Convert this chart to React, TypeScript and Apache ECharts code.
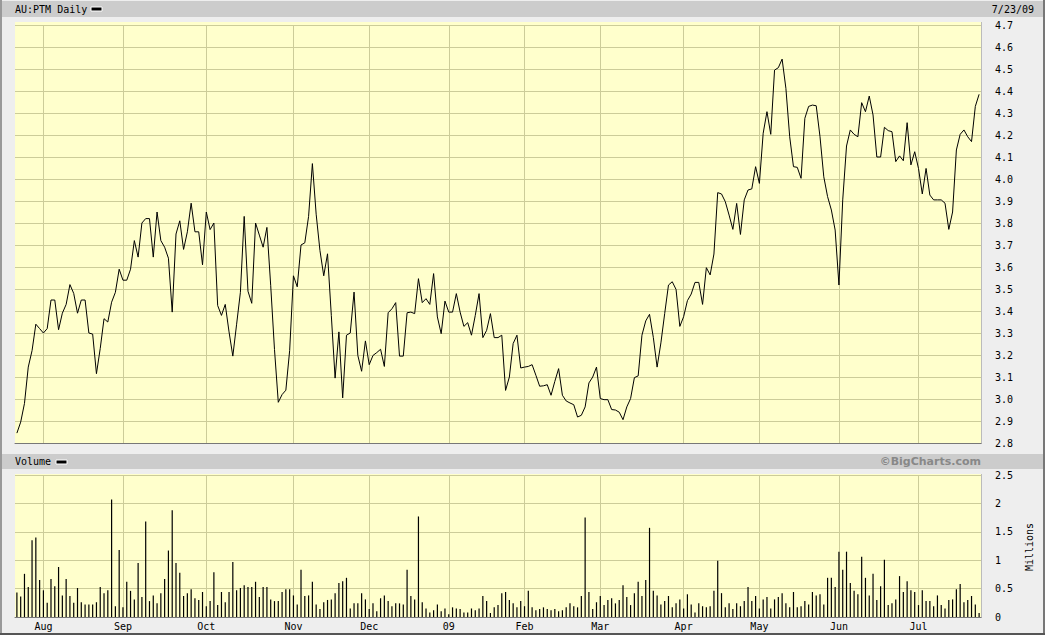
import React, { useEffect, useRef } from "react";
import * as echarts from "echarts";

// ASX trading calendar (categories)
const START_DATE = "2008-07-23";
const END_DATE = "2009-07-23";
const HOLIDAYS = ["2008-12-25", "2008-12-26", "2009-01-01", "2009-01-26", "2009-04-10", "2009-04-13", "2009-06-08"];
const MONTH_NAMES = ["09", "Feb", "Mar", "Apr", "May", "Jun", "Jul", "Aug", "Sep", "Oct", "Nov", "Dec"];

// Daily close (A$)
const PRICE = [
  2.845, 2.895, 2.98, 3.145, 3.22, 3.34, 3.32, 3.30, 3.32, 3.45,
  3.45, 3.315, 3.39, 3.43, 3.52, 3.48, 3.39, 3.45, 3.45, 3.30,
  3.295, 3.115, 3.23, 3.365, 3.35, 3.44, 3.485, 3.59, 3.54, 3.54,
  3.59, 3.72, 3.645, 3.80, 3.82, 3.82, 3.645, 3.85, 3.72, 3.69,
  3.64, 3.395, 3.75, 3.81, 3.68, 3.76, 3.89, 3.76, 3.76, 3.61,
  3.85, 3.77, 3.80, 3.425, 3.38, 3.43, 3.305, 3.195, 3.34, 3.485,
  3.83, 3.49, 3.435, 3.80, 3.745, 3.69, 3.78, 3.515, 3.225, 2.985,
  3.02, 3.04, 3.22, 3.56, 3.51, 3.70, 3.71, 3.83, 4.07, 3.84,
  3.675, 3.56, 3.66, 3.38, 3.095, 3.305, 3.005, 3.29, 3.30, 3.486,
  3.198, 3.126, 3.264, 3.156, 3.198, 3.211, 3.226, 3.148, 3.392, 3.41,
  3.438, 3.195, 3.195, 3.392, 3.395, 3.388, 3.547, 3.438, 3.456, 3.43,
  3.57, 3.373, 3.297, 3.445, 3.395, 3.395, 3.479, 3.395, 3.33, 3.347,
  3.29, 3.38, 3.479, 3.279, 3.312, 3.388, 3.279, 3.279, 3.29, 3.039,
  3.10, 3.252, 3.29, 3.141, 3.145, 3.148, 3.156, 3.108, 3.058, 3.06,
  3.065, 3.017, 3.08, 3.138, 3.017, 2.991, 2.982, 2.974, 2.918, 2.926,
  2.964, 3.073, 3.10, 3.145, 3.002, 2.997, 2.997, 2.952, 2.95, 2.94,
  2.906, 2.964, 3.002, 3.097, 3.105, 3.29, 3.355, 3.385, 3.28, 3.145,
  3.255, 3.388, 3.518, 3.533, 3.498, 3.33, 3.374, 3.447, 3.477, 3.53,
  3.53, 3.43, 3.597, 3.564, 3.659, 3.938, 3.932, 3.897, 3.836, 3.771,
  3.889, 3.748, 3.905, 3.95, 3.955, 4.056, 3.98, 4.208, 4.306, 4.203,
  4.495, 4.506, 4.545, 4.412, 4.192, 4.056, 4.053, 4.003, 4.276, 4.33,
  4.336, 4.333, 4.192, 4.01, 3.92, 3.859, 3.768, 3.518, 3.905, 4.15,
  4.223, 4.203, 4.192, 4.347, 4.306, 4.377, 4.291, 4.10, 4.10, 4.235,
  4.22, 4.215, 4.079, 4.105, 4.083, 4.256, 4.064, 4.124, 4.048, 3.932,
  4.048, 3.927, 3.905, 3.905, 3.905, 3.89, 3.771, 3.85, 4.132, 4.203,
  4.223, 4.192, 4.17, 4.33, 4.385,
];

// Daily volume (millions)
const VOLUME = [
  0.43, 0.36, 0.76, 0.53, 1.35, 1.40, 0.65, 0.47, 0.25, 0.67,
  0.54, 0.88, 0.38, 0.67, 0.37, 0.25, 0.51, 0.26, 0.22, 0.22,
  0.22, 0.26, 0.53, 0.42, 0.47, 2.07, 0.19, 1.18, 0.17, 0.62,
  0.46, 0.31, 0.95, 0.35, 1.68, 0.28, 0.38, 0.24, 0.42, 0.67,
  1.17, 1.88, 0.95, 0.78, 0.37, 0.42, 0.49, 0.33, 0.30, 0.44,
  0.19, 0.28, 0.79, 0.21, 0.44, 0.26, 0.44, 0.97, 0.47, 0.51,
  0.56, 0.53, 0.53, 0.62, 0.35, 0.53, 0.53, 0.31, 0.28, 0.28,
  0.44, 0.49, 0.49, 0.38, 0.22, 0.83, 0.37, 0.38, 0.62, 0.22,
  0.14, 0.26, 0.30, 0.31, 0.42, 0.60,
  0.63, 0.69, 0.15, 0.24, 0.24, 0.42, 0.31, 0.14, 0.24, 0.10,
  0.33, 0.38, 0.28, 0.19, 0.24, 0.24, 0.22, 0.83, 0.37, 0.31,
  1.77, 0.26, 0.15, 0.08, 0.12, 0.22, 0.10, 0.15, 0.05, 0.17,
  0.15, 0.14, 0.08, 0.08, 0.15, 0.12, 0.15, 0.37, 0.28, 0.07,
  0.17, 0.21, 0.42, 0.44, 0.30, 0.24, 0.17, 0.28, 0.19, 0.46,
  0.17, 0.12, 0.14, 0.17, 0.14, 0.12, 0.14, 0.10, 0.12, 0.17,
  0.24, 0.19, 0.17, 0.37, 1.75, 0.44, 0.14, 0.26, 0.37, 0.21,
  0.30, 0.33, 0.24, 0.30, 0.56, 0.35, 0.21, 0.42, 0.62, 0.37,
  0.65, 1.57, 0.46, 0.38, 0.22, 0.28,
  0.37, 0.17, 0.24, 0.31, 0.15, 0.40, 0.22, 0.08,
  0.24, 0.19, 0.17, 0.19, 0.46, 0.99, 0.42, 0.17, 0.24, 0.14,
  0.24, 0.19, 0.28, 0.53, 0.28, 0.37, 0.15, 0.31, 0.35, 0.15,
  0.31, 0.35, 0.42, 0.24, 0.17, 0.44, 0.17, 0.19, 0.28, 0.22,
  0.44, 0.38, 0.40, 0.22, 0.69, 0.69, 0.53, 1.15, 0.83, 1.15,
  0.60, 0.46, 0.40, 1.06, 0.69, 0.38, 0.76, 0.30, 0.54, 1.01,
  0.21, 0.24, 0.31, 0.72, 0.44, 0.63, 0.47, 0.44, 0.21, 0.47,
  0.28, 0.28, 0.19, 0.38, 0.21, 0.15, 0.30, 0.31, 0.49, 0.58,
  0.26, 0.30, 0.37, 0.22, 0.07,
];

const PRICE_AXIS = { min: 2.8, max: 4.7, interval: 0.1 };
const VOLUME_AXIS = { min: 0, max: 2.5, interval: 0.5 };

function tradingDays(): string[] {
  const out: string[] = [];
  const [sy, sm, sd] = START_DATE.split("-").map(Number);
  const [ey, em, ed] = END_DATE.split("-").map(Number);
  let t = Date.UTC(sy, sm - 1, sd);
  const end = Date.UTC(ey, em - 1, ed);
  while (t <= end) {
    const d = new Date(t);
    const wd = d.getUTCDay();
    const s = d.toISOString().slice(0, 10);
    if (wd !== 0 && wd !== 6 && HOLIDAYS.indexOf(s) < 0) out.push(s);
    t += 86400000;
  }
  return out;
}

const MONO = "'DejaVu Sans Mono', monospace";
const GRID_COLOR = "#cccc99";
const PLOT_BG = "#ffffcc";

export default function App() {
  const ref = useRef<HTMLDivElement>(null);
  useEffect(() => {
    if (!ref.current) return;
    const chart = echarts.init(ref.current, undefined, { renderer: "svg" });
    const days = tradingDays();
    const isMonthStart = (i: number) => i > 0 && days[i] && days[i - 1] && days[i].slice(0, 7) !== days[i - 1].slice(0, 7);
    const monthLabel = (v: string) => MONTH_NAMES[Number(v.slice(5, 7)) - 1];

    const xBase = (gridIndex: number, showLabels: boolean) => ({
      type: "category",
      gridIndex,
      data: days,
      boundaryGap: true,
      axisLine: { show: true, lineStyle: { color: "#777777", width: 1 } },
      axisTick: { show: false },
      axisLabel: {
        show: showLabels,
        interval: (i: number) => isMonthStart(i),
        formatter: monthLabel,
        fontFamily: MONO,
        fontSize: 10,
        color: "#000",
        margin: 4,
      },
      splitLine: {
        show: true,
        interval: (i: number) => isMonthStart(i),
        alignWithLabel: true,
        lineStyle: { color: GRID_COLOR, width: 1 },
      },
    });

    const yBase = (gridIndex: number, cfg: any, fmt: (v: number) => string) => ({
      type: "value",
      gridIndex,
      position: "right",
      min: cfg.min,
      max: cfg.max,
      interval: cfg.interval,
      axisLine: { show: false },
      axisTick: { show: false },
      axisLabel: { margin: 14, formatter: fmt, fontFamily: MONO, fontSize: 10, color: "#000" },
      splitLine: { show: true, lineStyle: { color: GRID_COLOR, width: 1 } },
    });

    const txt = (text: string, x: number, y: number, extra: any = {}) => ({
      type: "text",
      x,
      y,
      silent: true,
      style: {
        text,
        x: 0,
        y: 0,
        fill: "#000",
        font: `10px ${MONO}`,
        textVerticalAlign: "middle",
        ...extra,
      },
    });

    chart.setOption({
      animation: false,
      backgroundColor: "#eeeeee",
      grid: [
        { left: 15, top: 25, width: 966, height: 418, show: true, backgroundColor: PLOT_BG, borderWidth: 0 },
        { left: 15, top: 475, width: 966, height: 142, show: true, backgroundColor: PLOT_BG, borderWidth: 0 },
      ],
      xAxis: [xBase(0, false), xBase(1, true)],
      yAxis: [
        yBase(0, PRICE_AXIS, (v: number) => v.toFixed(1)),
        yBase(1, VOLUME_AXIS, (v: number) => String(Math.round(v * 10) / 10)),
      ],
      series: [
        {
          type: "line",
          xAxisIndex: 0,
          yAxisIndex: 0,
          data: PRICE,
          symbol: "none",
          showSymbol: false,
          lineStyle: { color: "#000", width: 1 },
          z: 5,
        },
        {
          type: "bar",
          xAxisIndex: 1,
          yAxisIndex: 1,
          data: VOLUME,
          barWidth: 1.2,
          itemStyle: { color: "#000" },
          z: 5,
        },
      ],
      graphic: [
        // frame
        { type: "rect", shape: { x: 0, y: 0, width: 2, height: 635 }, style: { fill: "#999999" }, silent: true },
        { type: "rect", shape: { x: 1043, y: 0, width: 2, height: 635 }, style: { fill: "#777777" }, silent: true },
        { type: "rect", shape: { x: 0, y: 633, width: 1045, height: 2 }, style: { fill: "#555555" }, silent: true },
        // header bars
        { type: "rect", shape: { x: 2, y: 1, width: 1041, height: 16 }, style: { fill: "#cccccc" }, silent: true },
        { type: "rect", shape: { x: 2, y: 454, width: 1041, height: 15 }, style: { fill: "#cccccc" }, silent: true },
        // plot top strips
        { type: "rect", shape: { x: 15, y: 22, width: 966, height: 3 }, style: { fill: PLOT_BG }, silent: true },
        { type: "rect", shape: { x: 15, y: 474, width: 966, height: 1 }, style: { fill: PLOT_BG }, silent: true },
        // right edges
        { type: "line", shape: { x1: 981.5, y1: 22, x2: 981.5, y2: 444 }, style: { stroke: "#bbbbbb", lineWidth: 1 }, silent: true },
        { type: "line", shape: { x1: 981.5, y1: 474, x2: 981.5, y2: 618 }, style: { stroke: "#bbbbbb", lineWidth: 1 }, silent: true },
        // titles
        txt("AU:PTM Daily", 15, 9.5),
        { type: "rect", shape: { x: 91, y: 7, width: 11, height: 4 }, style: { fill: "#000", stroke: "#ffffff", lineWidth: 1 }, silent: true },
        txt("7/23/09", 1034, 9.5, { textAlign: "right" }),
        txt("Volume", 15, 461.5),
        { type: "rect", shape: { x: 56, y: 460, width: 11, height: 4 }, style: { fill: "#000", stroke: "#ffffff", lineWidth: 1 }, silent: true },
        txt("©BigCharts.com", 981, 461.5, { textAlign: "right", fill: "#888888", font: "bold 11px 'DejaVu Sans', sans-serif" }),
        { ...txt("Millions", 1029, 547, { textAlign: "center" }), rotation: Math.PI / 2 },
      ],
    });
    return () => chart.dispose();
  }, []);
  return <div ref={ref} style={{ position: "absolute", left: 0, top: 0, width: 1045, height: 635 }} />;
}
